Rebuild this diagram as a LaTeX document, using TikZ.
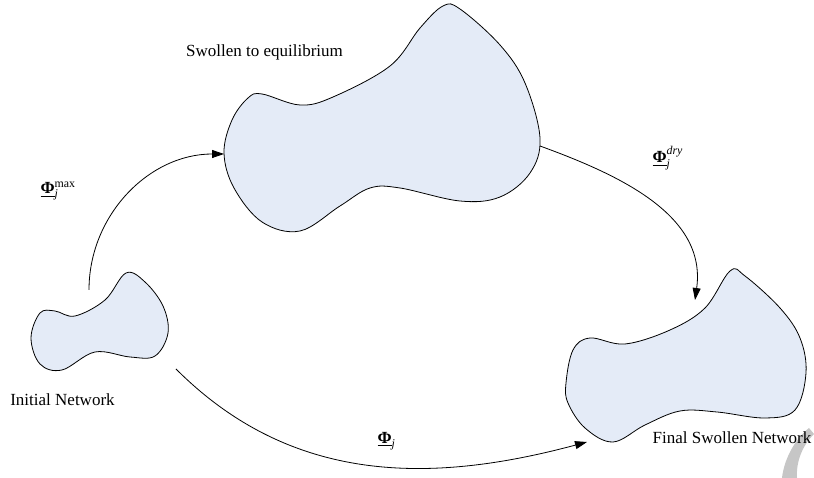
\documentclass[tikz,border=0pt]{standalone}
\usepackage{amsmath}
\usepackage{fontspec}
\setmainfont{Liberation Serif}
\usepackage{tikz}
\usetikzlibrary{arrows.meta}
\definecolor{blobfill}{RGB}{228,235,247}

\begin{document}
\begin{tikzpicture}[x=1pt, y=1pt,
    every node/.style={font=\fontsize{17}{20}\selectfont},
    blob/.style={draw, fill=blobfill, line width=0.8pt},
    link/.style={-{Triangle[length=12pt,width=8pt]}, line width=0.8pt}]
  \useasboundingbox (0,0) rectangle (814,478);

  % corner mark
  \fill[gray!45] (809,50) .. controls (794,38) and (784,18) .. (782,0) -- (797,0) .. controls (796,16) and (802,32) .. (814,44) -- cycle;

  % Networks
  \draw[blob] plot[smooth cycle, tension=0.6] coordinates {(31,140) (40,165) (55,167) (75,162) (105,178) (126,205) (145,196) (163,172) (168,145) (155,122) (130,121) (95,126) (62,108) (40,114)};
  \draw[blob] plot[smooth cycle, tension=0.6] coordinates {(224,325) (232,358) (248,380) (262,384) (300,373) (333,381) (390,412) (420,450) (443,472) (460,469) (500,433) (525,395) (540,340) (530,305) (500,281) (460,277) (400,290) (370,290) (340,272) (300,247) (262,256) (234,290)};
  \draw[blob] plot[smooth cycle, tension=0.6] coordinates {(566,95) (573,128) (590,140) (625,134) (670,148) (705,170) (730,207) (745,202) (780,170) (800,140) (806,105) (795,68) (765,60) (717,66) (680,67) (645,53) (613,36) (585,50) (568,75)};

  % Labels
  \node (swlab) at (264.5,426) {Swollen to equilibrium};
  \node (initlab) at (62.5,78) {Initial Network};
  \node (finlab) at (732,40) {Final Swollen Network};
  \node[anchor=west] (phimax) at (37,287) {$\underline{\text{\bfseries Φ}}_{\textit{j}}^{\text{max}}$};
  \node[anchor=west] (phidry) at (649,320) {$\underline{\text{\bfseries Φ}}_{\textit{j}}^{\textit{dry}}$};
  \node[anchor=west] (phij) at (374,37) {$\underline{\text{\bfseries Φ}}_{\textit{j}}$};

  % Arrow ends
  \coordinate (init-up) at (89,188);
  \coordinate (init-dn) at (176,109);
  \coordinate (sw-in) at (224,324);
  \coordinate (sw-out) at (540,332);
  \coordinate (fin-top) at (695,178);
  \coordinate (fin-left) at (587,36);

  % Paths
  \draw[link] (init-up) to[out=90, in=180] (sw-in);
  \draw[link] (sw-out) to[out=-20, in=82] (fin-top);
  \draw[link] (init-dn) to[out=-45, in=195] (fin-left);
\end{tikzpicture}
\end{document}
